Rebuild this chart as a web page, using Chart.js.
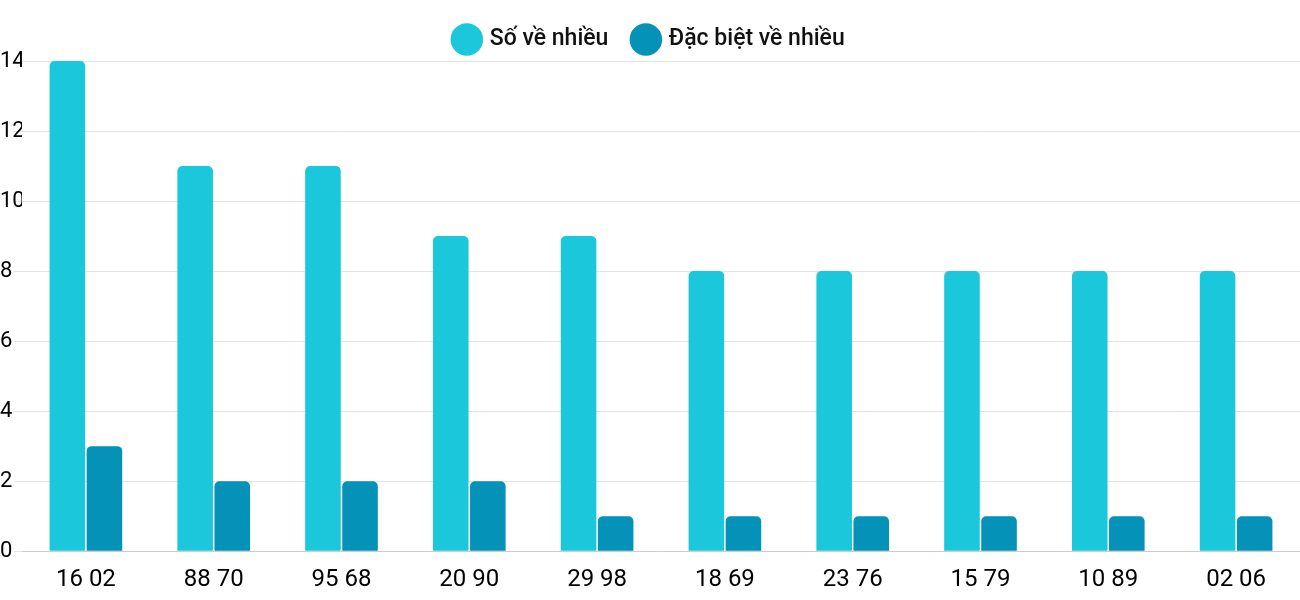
<!DOCTYPE html>
<html>
<head>
<meta charset="utf-8">
<script src="https://cdn.jsdelivr.net/npm/chart.js@4"></script>
<style>
  html, body { margin: 0; padding: 0; background: #fff; }
  #wrap { width: 1300px; height: 600px; }
</style>
</head>
<body>
<div id="wrap"><canvas id="c"></canvas></div>
<script>
const labels = ['16 02', '88 70', '95 68', '20 90', '29 98', '18 69', '23 76', '15 79', '10 89', '02 06'];
const soVeNhieu = [14, 11, 11, 9, 9, 8, 8, 8, 8, 8];
const dacBietVeNhieu = [3, 2, 2, 2, 1, 1, 1, 1, 1, 1];
const yTicks = [0, 2, 4, 6, 8, 10, 12, 14];

Chart.defaults.font.family = 'Roboto, sans-serif';
Chart.defaults.color = '#111';

new Chart(document.getElementById('c'), {
  type: 'bar',
  data: {
    labels,
    datasets: [
      { label: 'Số về nhiều', data: soVeNhieu, backgroundColor: '#1bc8db', borderRadius: 5, borderSkipped: 'bottom' },
      { label: 'Đặc biệt về nhiều', data: dacBietVeNhieu, backgroundColor: '#0592b8', borderRadius: 5, borderSkipped: 'bottom' }
    ]
  },
  options: {
    responsive: true,
    maintainAspectRatio: false,
    animation: false,
    layout: { padding: { left: 0, right: 0, top: 2, bottom: 0 } },
    datasets: { bar: { categoryPercentage: 0.58, barPercentage: 0.96 } },
    plugins: {
      legend: {
        labels: { usePointStyle: true, pointStyle: 'circle', boxWidth: 26, boxHeight: 26, padding: 26, font: { size: 23, weight: '500' } }
      },
      tooltip: { enabled: false }
    },
    scales: {
      x: {
        grid: { display: false },
        border: { color: '#ccc' },
        ticks: { font: { size: 24 }, padding: 6, color: '#000' }
      },
      y: {
        min: 0, max: 14,
        afterFit: axis => { axis.width = 22; },
        afterBuildTicks: axis => { axis.ticks = yTicks.map(v => ({ value: v })); },
        grid: { color: '#e3e3e3' },
        border: { display: false },
        ticks: { font: { size: 22 }, padding: 0, crossAlign: 'far', color: '#000' }
      }
    }
  }
});
</script>
</body>
</html>
